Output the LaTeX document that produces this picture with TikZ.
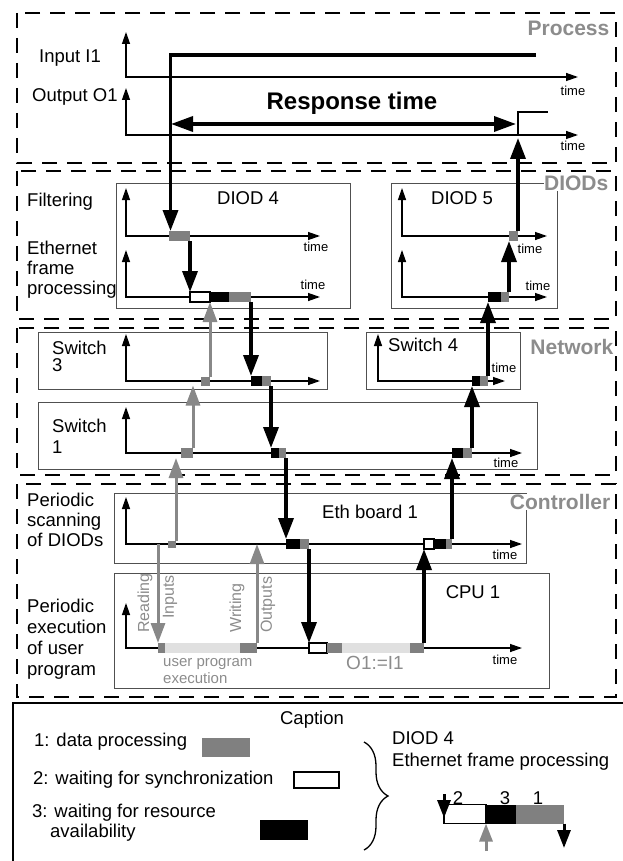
\documentclass[tikz,border=0pt]{standalone}
\usepackage{fontspec}
\setmainfont{Liberation Sans}
\usetikzlibrary{arrows.meta, decorations.pathreplacing}
\definecolor{blkgray}{RGB}{128,128,128}
\definecolor{siggray}{RGB}{136,136,136}
\definecolor{lblgray}{RGB}{140,140,140}
\definecolor{bargray}{RGB}{224,224,224}
\definecolor{boxgray}{RGB}{80,80,80}

\begin{document}
\begin{tikzpicture}[x=1pt, y=-1pt,
  secbox/.style={line width=1.5pt, dash pattern=on 15pt off 10pt},
  unitbox/.style={draw=boxgray, line width=1pt},
  seclbl/.style={font=\fontsize{21}{24}\selectfont\bfseries, text=lblgray, fill=white, inner sep=0.5pt, anchor=east},
  lbl/.style={font=\fontsize{18.5}{20}\selectfont, align=left, anchor=west, inner sep=0pt},
  ttl/.style={font=\fontsize{18.5}{20}\selectfont, inner sep=0pt},
  tm/.style={font=\fontsize{13}{14}\selectfont, inner sep=0pt},
  gtxt/.style={font=\fontsize{16}{17}\selectfont, text=lblgray, inner sep=0pt},
  axis/.style={line width=1.3pt, {Triangle[length=12pt,width=8pt]}-{Triangle[length=12pt,width=8pt]}},
  blk/.style={inner sep=0pt, outer sep=0pt, minimum height=10pt, anchor=west},
  gblk/.style={blk, fill=blkgray},
  bblk/.style={blk, fill=black},
  wblk/.style={blk, fill=white, draw=black, line width=1.2pt},
  lblk/.style={blk, fill=bargray},
  sig/.style={line width=3.5pt, -{Triangle[length=21pt,width=15pt]}},
  gsig/.style={line width=3pt, siggray, -{Triangle[length=20pt,width=14pt]}}]
  \useasboundingbox (0,0) rectangle (622,861);

  % Section frames
  \draw[secbox] (17,13) rectangle (616,163);
  \draw[secbox] (17,171) rectangle (616,319);
  \draw[secbox] (17,328) rectangle (616,475);
  \draw[secbox] (17,484) rectangle (616,697);

  % Unit boxes
  \draw[unitbox] (116,183) rectangle (350,308);
  \draw[unitbox] (391,183) rectangle (557,308);
  \draw[unitbox] (38,332) rectangle (327,389);
  \draw[unitbox] (366,332) rectangle (520,389);
  \draw[unitbox] (38,402) rectangle (537,469);
  \draw[unitbox] (114,493) rectangle (526,563);
  \draw[unitbox] (114,573) rectangle (549,688);

  % Section labels
  \node[seclbl] (lprocess) at (610,28) {Process};
  \node[seclbl] (ldiods) at (609,183) {DIODs};
  \node[seclbl] (lnetwork) at (614,347) {Network};
  \node[seclbl] (lcontroller) at (611,502) {Controller};

  % Row labels
  \node[lbl] (lin) at (39,58) {Input I1};
  \node[lbl] (lout) at (32,97) {Output O1};
  \node[lbl] (lfilter) at (27,202) {Filtering};
  \node[lbl] (leth) at (27,270) {Ethernet\\frame\\processing};
  \node[lbl, font=\fontsize{18.5}{17}\selectfont] (lsw3) at (52,356) {Switch\\3};
  \node[lbl, font=\fontsize{18.5}{21}\selectfont] (lsw1) at (52,436) {Switch\\1};
  \node[lbl] (lscan) at (27,520) {Periodic\\scanning\\of DIODs};
  \node[lbl, font=\fontsize{18.5}{21}\selectfont] (lexec) at (27,639) {Periodic\\execution\\of user\\program};

  % Unit titles
  \node[ttl] (tdiod4) at (248,198) {DIOD 4};
  \node[ttl] (tdiod5) at (462,198) {DIOD 5};
  \node[ttl, anchor=west] (tsw4) at (388,345) {Switch 4};
  \node[ttl] (teth) at (370,512) {Eth board 1};
  \node[ttl] (tcpu) at (473,592) {CPU 1};

  % Time axes
  \draw[axis] (126,32) |- (578,77);
  \draw[axis] (126,88) |- (578,135);
  \draw[axis] (126,188) |- (320,236);
  \draw[axis] (126,250) |- (320,297);
  \draw[axis] (402,188) |- (547,236);
  \draw[axis] (402,250) |- (547,297);
  \draw[axis] (126,334) |- (320,381);
  \draw[axis] (378,334) |- (505,381);
  \draw[axis] (126,407) |- (522,453);
  \draw[axis] (126,497) |- (522,544);
  \draw[axis] (126,603) |- (522,648);

  \node[tm] (tm1) at (573,91) {time};
  \node[tm] (tm2) at (573,146) {time};
  \node[tm] (tm3) at (316,247) {time};
  \node[tm] (tm4) at (313,285) {time};
  \node[tm] (tm5) at (530,249) {time};
  \node[tm] (tm6) at (538,286) {time};
  \node[tm] (tm7) at (504,368) {time};
  \node[tm] (tm8) at (506,463) {time};
  \node[tm] (tm9) at (505,555) {time};
  \node[tm] (tm10) at (505,660) {time};

  % Activity blocks
  \node[gblk, minimum width=21pt] (f4) at (169,236) {};
  \node[wblk, minimum width=20pt] (e4w) at (190,297) {};
  \node[bblk, minimum width=19pt] (e4b) at (210,297) {};
  \node[gblk, minimum width=22pt] (e4g) at (229,297) {};
  \node[gblk, minimum width=9pt, minimum height=9pt] (s3g) at (201,381) {};
  \node[bblk, minimum width=11pt] (s3b) at (251,381) {};
  \node[gblk, minimum width=9pt] (s3k) at (262,381) {};
  \node[gblk, minimum width=12pt] (s1g) at (181,453) {};
  \node[bblk, minimum width=8pt] (s1b) at (271,453) {};
  \node[gblk, minimum width=7pt] (s1k) at (279,453) {};
  \node[gblk, minimum width=8pt, minimum height=7pt] (eg) at (168,544) {};
  \node[bblk, minimum width=14pt] (eb) at (286,544) {};
  \node[gblk, minimum width=9pt] (ek) at (300,544) {};
  \node[gblk, minimum width=7pt] (c1) at (158,648) {};
  \node[lblk, minimum width=75pt] (l1) at (165,648) {};
  \node[gblk, minimum width=17pt] (c2) at (240,648) {};
  \node[wblk, minimum width=18pt] (cw) at (309,648) {};
  \node[gblk, minimum width=15pt] (c3) at (327,648) {};
  \node[lblk, minimum width=68pt] (l2) at (342,648) {};
  \node[gblk, minimum width=14pt] (c4) at (410,648) {};
  \node[wblk, minimum width=10pt] (ew) at (424,544) {};
  \node[bblk, minimum width=12pt] (ex) at (434,544) {};
  \node[gblk, minimum width=6pt] (ey) at (446,544) {};
  \node[bblk, minimum width=11pt] (s1r) at (452,453) {};
  \node[gblk, minimum width=9pt] (s1q) at (463,453) {};
  \node[bblk, minimum width=8pt] (s4b) at (472,381) {};
  \node[gblk, minimum width=8pt] (s4g) at (480,381) {};
  \node[bblk, minimum width=13pt] (e5b) at (488,297) {};
  \node[gblk, minimum width=8pt] (e5g) at (501,297) {};
  \node[gblk, minimum width=9pt] (f5g) at (509,236) {};

  % Free ends
  \coordinate (inend) at (536,55);
  \coordinate (oarr) at (518,138);
  \coordinate (ostep) at (518,135);
  \coordinate (oend) at (548,112);
  \coordinate (rd) at (158,544);
  \coordinate (wr) at (257,544);
  \coordinate (rtl) at (171,124);
  \coordinate (rtr) at (516,124);

  % Response time
  \node[font=\fontsize{24}{26}\selectfont\bfseries, inner sep=0pt] (resp) at (352,103) {Response time};
  \draw[line width=3.5pt, {Triangle[length=22pt,width=15pt]}-{Triangle[length=22pt,width=15pt]}] (rtl) -- (rtr);

  % Signal path
  \draw[sig] (inend) -| ([xshift=1.5pt]f4.north west);
  \draw[sig] (f4.south east) -- (e4w.north west);
  \draw[sig] (e4g.south east) -- (s3b.north west);
  \draw[sig] (s3k.south east) -- (s1b.north west);
  \draw[sig] (s1k.south east) -- (eb.north west);
  \draw[sig] (ek.south east) -- (cw.north west);
  \draw[sig] (c4.north east) -- (ew.south west);
  \draw[sig] (ey.north east) -- (s1r.south west);
  \draw[sig] (s1q.north east) -- (s4b.south west);
  \draw[sig] (s4g.north east) -- (e5b.south west);
  \draw[sig] (e5g.north east) -- (f5g.south west);
  \draw[sig] (f5g.north east) -- (oarr);
  \draw[line width=2pt] (ostep) |- (oend);

  % Input reading / output writing
  \draw[gsig] (eg.north east) -- (eg.north east |- s1g.south);
  \draw[gsig] (s1g.north east) -- (s1g.north east |- s3g.south);
  \draw[gsig] (s3g.north east) -- (e4b.south west);
  \draw[gsig] (rd) -- (c1.north west);
  \draw[gsig] (c2.north east) -- (wr);

  \node[gtxt, rotate=90, anchor=west] (rreading) at (145,633) {Reading};
  \node[gtxt, rotate=90, anchor=east] (rinputs) at (170,575) {Inputs};
  \node[gtxt, rotate=90, anchor=west] (rwriting) at (237,633) {Writing};
  \node[gtxt, rotate=90, anchor=west] (routputs) at (268,633) {Outputs};
  \node[gtxt, font=\fontsize{15}{17}\selectfont, align=left, anchor=west] (uprog) at (163,671) {user program\\execution};
  \node[gtxt, font=\fontsize{19}{20}\selectfont] (assign) at (375,663) {O1:=I1};

  % Caption
  \draw[line width=1.2pt] (13,703) rectangle (640,880);
  \node[ttl] (cap) at (312,720) {Caption};
  \node[lbl] (k1) at (34,742) {1: data processing};
  \node[lbl] (k2) at (33,780) {2: waiting for synchronization};
  \node[lbl, font=\fontsize{18.5}{20}\selectfont] (k3) at (32,823) {3: waiting for resource\\\hspace*{18pt}availability};
  \node[gblk, minimum width=48pt, minimum height=19pt] (kg) at (202,747) {};
  \node[wblk, minimum width=45pt, minimum height=16pt] (kw) at (294,780) {};
  \node[bblk, minimum width=48pt, minimum height=20pt] (kb) at (260,830) {};
  \draw[line width=1.3pt, decorate, decoration={brace, amplitude=24pt}] (364,742) -- (364,850);
  \node[lbl] (kd) at (392,738) {DIOD 4};
  \node[lbl] (ke) at (392,762) {Ethernet frame processing};

  \node[wblk, minimum width=42pt, minimum height=19pt] (mw) at (444,814) {};
  \node[bblk, minimum width=30pt, minimum height=19pt] (mb) at (486,814) {};
  \node[gblk, minimum width=48pt, minimum height=19pt] (mg) at (516,814) {};
  \node[ttl] (n2) at (458,798) {2};
  \node[ttl] (n3) at (505,798) {3};
  \node[ttl] (n1) at (538,798) {1};
  \coordinate (m1) at (444,794);
  \coordinate (m2) at (486,851);
  \coordinate (m3) at (564,848);
  \draw[line width=3pt, -{Triangle[length=18pt,width=13pt]}] (m1) -- ([yshift=-4pt]mw.west);
  \draw[gsig, -{Triangle[length=18pt,width=13pt]}] (m2) -- (mw.south east);
  \draw[line width=3pt, -{Triangle[length=18pt,width=13pt]}] (mg.south east) -- (m3);
\end{tikzpicture}
\end{document}
